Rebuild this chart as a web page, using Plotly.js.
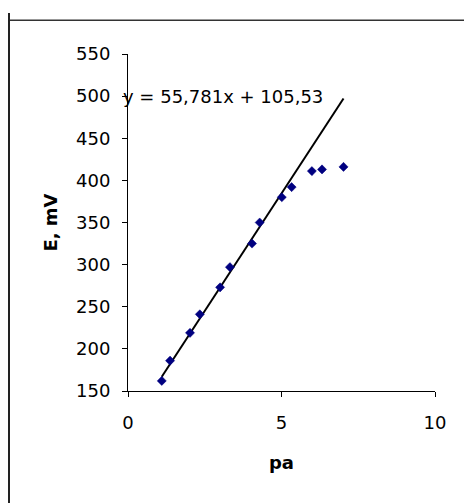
<!DOCTYPE html>
<html>
<head>
<meta charset="utf-8">
<script src="https://cdn.plot.ly/plotly-3.0.1.min.js"></script>
<style>
  html, body { margin: 0; padding: 0; background: #fff; overflow: hidden; }
  #wrap { position: relative; width: 464px; height: 503px; overflow: hidden; }
  #chart { width: 464px; height: 503px; }
  #frameLeft { position: absolute; left: 8px; top: 13px; width: 0; height: 520px;
               border-left: 2px solid #222222; pointer-events: none; }
</style>
</head>
<body>
<div id="wrap">
  <div id="chart"></div>
  <div id="frameLeft"></div>
</div>
<script>
// Data
const pa = [1.1, 1.37, 2.02, 2.34, 3.0, 3.32, 4.04, 4.29, 5.01, 5.33, 5.99, 6.32, 7.02];
const E_mV = [162, 186, 219, 241, 273, 297, 325, 350, 380, 392, 411, 413, 416];
const slope = 55.781;
const intercept = 105.53;
const equationText = "y = 55,781x + 105,53";
const yTicks = [150, 200, 250, 300, 350, 400, 450, 500, 550];
const xTicks = [0, 5, 10];

const xMin = Math.min(...pa), xMax = Math.max(...pa);
const trendX = [xMin, xMax];
const trendY = trendX.map(x => slope * x + intercept);

const font = "DejaVu Sans, Arial, sans-serif";

const traces = [
  {
    x: trendX, y: trendY, mode: "lines", type: "scatter",
    line: { color: "#000000", width: 2 },
    hoverinfo: "skip", showlegend: false
  },
  {
    x: pa, y: E_mV, mode: "markers", type: "scatter",
    marker: { symbol: "diamond", size: 7, color: "#000080", line: { color: "#000080", width: 0.5 } },
    showlegend: false
  }
];

const layout = {
  width: 464, height: 503,
  margin: { l: 128, r: 29, t: 54, b: 112, pad: 0 },
  paper_bgcolor: "#ffffff", plot_bgcolor: "#ffffff",
  font: { family: font, size: 18, color: "#000000" },
  showlegend: false,
  xaxis: {
    range: [0, 10], tickvals: xTicks, ticktext: xTicks.map(String),
    showgrid: false, zeroline: false, showline: true, linecolor: "#000000", linewidth: 1,
    ticks: "outside", ticklen: 5, tickcolor: "#000000", tickwidth: 1,
    ticklabelstandoff: 10,
    tickfont: { family: font, size: 18, color: "#000000" },
    title: { text: "<b>pa</b>", font: { family: font, size: 18, color: "#000000" }, standoff: 24 },
    automargin: false
  },
  yaxis: {
    range: [150, 550], tickvals: yTicks, ticktext: yTicks.map(String),
    showgrid: false, zeroline: false, showline: true, linecolor: "#000000", linewidth: 1,
    ticks: "outside", ticklen: 5, tickcolor: "#000000", tickwidth: 1,
    ticklabelstandoff: 8,
    tickfont: { family: font, size: 18, color: "#000000" },
    title: { text: "<b>E, mV</b>", font: { family: font, size: 18, color: "#000000" }, standoff: 13 },
    automargin: false
  },
  annotations: [
    {
      x: -0.024, y: 499, xref: "paper", yref: "y",
      text: equationText, showarrow: false,
      xanchor: "left", yanchor: "middle",
      font: { family: font, size: 18, color: "#000000" }
    }
  ],
  shapes: [
    {
      type: "line", xref: "paper", yref: "paper",
      x0: -0.389, x1: 1.1, y0: 1.1, y1: 1.1,
      line: { color: "#333333", width: 1.5 }
    }
  ]
};

Plotly.newPlot("chart", traces, layout, { displayModeBar: false, staticPlot: true });
</script>
</body>
</html>
